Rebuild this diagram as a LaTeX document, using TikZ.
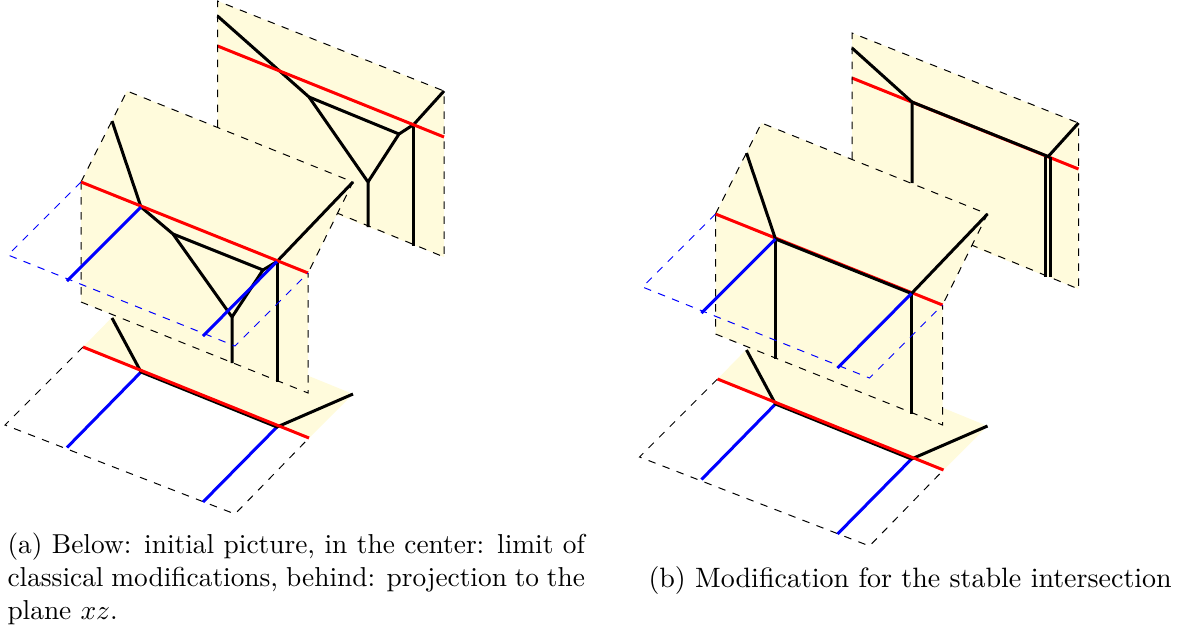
\documentclass[tikz,border=0pt]{standalone}
\usepackage{xcolor}
\usetikzlibrary{calc}
\definecolor{planecol}{HTML}{FFFBDC}
\tikzset{
  plane/.style={fill=planecol, draw=none},
  edge/.style={dashed, black},
  bluedge/.style={dashed, blue},
  tropic/.style={very thick, black},
  redline/.style={very thick, red},
  blueline/.style={very thick, blue},
  captiontext/.style={inner sep=0pt, font=\fontsize{10.95}{13.35}\selectfont},
}
% the three planes, in the pixels of panel (a)
\newcommand{\coordsall}{%
  \coordinate (BA) at (217.5,1);
  \coordinate (BB) at (444,91);
  \coordinate (BC) at (444,257);
  \coordinate (BD) at (337,213);
  \coordinate (BE) at (217.5,127);
  \coordinate (BF) at (217.5,167);
  \coordinate (MA) at (127,91);
  \coordinate (MB) at (353,182);
  \coordinate (MC) at (308,273);
  \coordinate (MD) at (81,182);
  \coordinate (ME) at (308,393);
  \coordinate (MF) at (81,302);
  \coordinate (MG) at (8,255);
  \coordinate (MH) at (235,346);
  \coordinate (LA) at (127,302);
  \coordinate (LB) at (353,394);
  \coordinate (LC) at (309,438);
  \coordinate (LD) at (83,347);
  \coordinate (LE) at (5,425);
  \coordinate (LF) at (235,514);
  % line ends
  \coordinate (r1) at (217.5,46);
  \coordinate (r2) at (444,137);
  \coordinate (t0) at (217.5,16);
  \coordinate (t1) at (277.5,70);
  \coordinate (u1) at (413.7,124.5);
  \coordinate (m1) at (141,207);
  \coordinate (m2) at (277,261.5);
  \coordinate (m0) at (112,121);
  \coordinate (l1) at (141,372);
  \coordinate (l2) at (277,427);
  \coordinate (l0) at (112,318);
  \coordinate (b1) at (67,281);
  \coordinate (b2) at (203,336);
  \coordinate (b3) at (67,447.5);
  \coordinate (b4) at (203,502);
}
% lower plane, goes first so the middle one hides it
\newcommand{\lowfill}{%
  \fill[planecol] (LD) -- (LA) -- (LB) -- (LC) -- cycle;}
\newcommand{\backfill}{%
  \fill[planecol] (BA) -- (BB) -- (BC) -- (BF) -- cycle;}
\newcommand{\backedge}{%
  \draw[edge] (BE) -- (BA) -- (BB) -- (BC) -- (BD);}
\newcommand{\midfill}{%
  \fill[planecol] (MA) -- (MB) -- (MC) -- (ME) -- (MF) -- (MD) -- cycle;
  \draw[edge] (MD) -- (MA) -- (MB) -- (MC);
  \draw[edge] (MD) -- (MF) -- (ME) -- (MC);}
\newcommand{\midblue}{%
  \draw[bluedge] (MD) -- (MG) -- (MH) -- (MC);
  \draw[blueline] (m1) -- (b1);
  \draw[blueline] (m2) -- (b2);}
\newcommand{\lowlines}{%
  \draw[edge] (LD) -- (LE) -- (LF) -- (LC);
  \draw[blueline] (l1) -- (b3);
  \draw[blueline] (l2) -- (b4);
  \draw[tropic] (l0) -- (l1) -- (l2) -- (LB);
  \draw[redline] (LD) -- (LC);}

\begin{document}
\begin{tikzpicture}[x=0.4pt, y=-0.4pt]
  \useasboundingbox (0,0) rectangle (1182,628);
  \coordsall
  \lowfill
  % panel (a)
  \backfill
  \coordinate (v1) at (309,97);
  \coordinate (v2) at (368,182);
  \coordinate (v3) at (399,134);
  \coordinate (v4) at (368,227);
  \coordinate (v5) at (413.7,246);
  \draw[tropic] (t0) -- (v1) -- (v2) -- (v4);
  \draw[tropic] (v1) -- (v3) -- (v2);
  \draw[tropic] (v3) -- (u1) -- (BB);
  \draw[tropic] (u1) -- (v5);
  \draw[redline] (r1) -- (r2);
  \backedge
  \midfill
  \coordinate (w1) at (173,234);
  \coordinate (w2) at (232,317);
  \coordinate (w3) at (263,270);
  \coordinate (w4) at (232,363);
  \coordinate (w5) at (277,382);
  \draw[tropic] (m0) -- (m1) -- (w1) -- (w2) -- (w4);
  \draw[tropic] (w1) -- (w3) -- (w2);
  \draw[tropic] (w3) -- (m2) -- (MB);
  \draw[tropic] (m2) -- (w5);
  \draw[redline] (MD) -- (MC);
  \midblue
  \lowlines
  % panel (b)
  \begin{scope}[shift={(634.5,32)}]
    \coordsall
    \lowfill
    \backfill
    \draw[redline] (r1) -- (r2);
    \coordinate (v1) at (277.5,151);
    \coordinate (v2) at ($(u1)+(-2.5,0)$);
    \coordinate (v3) at ($(u1)+(2.5,0)$);
    \coordinate (v4) at (411.2,245);
    \coordinate (v5) at (416.2,245);
    \draw[tropic] (t0) -- (t1) -- (v1);
    \draw[tropic] (t1) -- (u1) -- (BB);
    \draw[tropic] (v2) -- (v4);
    \draw[tropic] (v3) -- (v5);
    \backedge
    \midfill
    \coordinate (w1) at (141,327);
    \coordinate (w2) at (277,382);
    \draw[redline] (MD) -- (MC);
    \draw[tropic] (m0) -- (m1) -- (m2) -- (MB);
    \draw[tropic] (m1) -- (w1);
    \draw[tropic] (m2) -- (w2);
    \midblue
    \lowlines
  \end{scope}
  % captions
  \node[captiontext, anchor=north west, text width=231pt, align=justify] (capa) at (7,532)
    {(a) Below: initial picture, in the center: limit of classical modifications, behind: projection to the plane $xz$.};
  \node[captiontext, scale=1.023, transform shape, anchor=west] (capb) at (648,580)
    {(b) Modification for the stable intersection};
\end{tikzpicture}
\end{document}
